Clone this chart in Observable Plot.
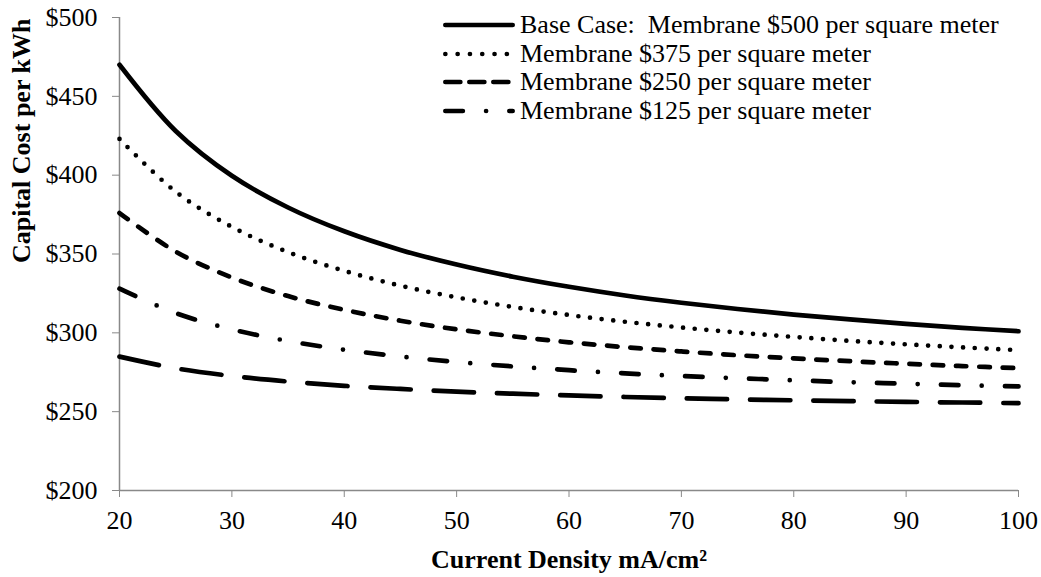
<!DOCTYPE html>
<html><head><meta charset="utf-8">
<script src="https://cdn.jsdelivr.net/npm/d3@7"></script>
<script src="https://cdn.jsdelivr.net/npm/@observablehq/plot@0.6"></script>
<style>
body{margin:0;background:#fff;}
#wrap{position:relative;width:1041px;height:577px;font-family:"Liberation Serif","Times New Roman",serif;}
#wrap svg text, #wrap svg g{font-family:"Liberation Serif","Times New Roman",serif !important;font-variant:normal !important;}
#legend{position:absolute;left:443px;top:11px;}
.row{display:flex;align-items:center;height:28.5px;font-size:26px;white-space:pre;color:#000;line-height:1;}
.row svg{margin-right:5px;display:block;}
</style></head><body><div id="wrap"><div id="legend"></div></div>
<script>
// Current density (mA/cm2)
const density = [20,25,30,35,40,45,50,55,60,65,70,75,80,85,90,95,100];
// Capital cost per kWh for each membrane cost
const cost500 = [470,428,399.6,379.5,364.4,352.6,343.3,335.6,329.2,323.7,319.1,315.1,311.6,308.5,305.7,303.2,301];
const cost375 = [423,389.5,367.2,351.2,339.3,329.9,322.5,316.4,311.3,307.0,303.4,300.2,297.4,294.9,292.7,290.8,289];
const cost250 = [376,351.5,335.1,323.3,314.6,307.7,302.2,297.8,294.0,290.9,288.2,285.8,283.8,282.0,280.4,278.9,277.6];
const cost125 = [328,312.5,302.2,294.8,289.3,285.0,281.5,278.7,276.3,274.3,272.6,271.2,269.9,268.7,267.7,266.8,266];
const costLow = [284.9,277.5,272.6,269.1,266.4,264.4,262.7,261.4,260.3,259.3,258.5,257.8,257.2,256.7,256.2,255.8,255.4];
const seriesNames = [
  "Base Case:  Membrane $500 per square meter",
  "Membrane $375 per square meter",
  "Membrane $250 per square meter",
  "Membrane $125 per square meter",
  ""
];
const xTicks = [20,30,40,50,60,70,80,90,100];
const yTicks = [200,250,300,350,400,450,500];
const xTitle = "Current Density mA/cm²";
const yTitle = "Capital Cost per kWh";

const seriesValues = [cost500, cost375, cost250, cost125, costLow];
const dashes = [null, "0 11.7", "10.5 12.8", "17.5 23.25 0 23.25", "40.3 23"];
const legendDashes = [null, "0 12.3", "15 9", "17.5 23.25 0 23.25"];
const SW = 4.7;
const FONT = "'Liberation Serif', 'Times New Roman', serif";

const lineMarks = seriesValues.map((vals, k) => {
  const rows = density.map((x, i) => ({x, y: vals[i]}));
  return Plot.line(rows, {x: "x", y: "y", stroke: "#000", strokeWidth: SW,
    strokeDasharray: dashes[k] || undefined, strokeLinecap: "round", strokeLinejoin: "round",
    curve: "catmull-rom"});
});

const chart = Plot.plot({
  width: 1041, height: 577,
  marginLeft: 119, marginRight: 23, marginTop: 17, marginBottom: 87,
  style: {fontFamily: FONT, fontSize: "26px", color: "#000", background: "#fff"},
  x: {domain: [20, 100]},
  y: {domain: [200, 500]},
  marks: [
    Plot.axisX({ticks: xTicks, tickSize: 7, tickPadding: 13, stroke: "#898989", fill: "#000", label: null, fontSize: 26, fontFamily: FONT, fontVariant: "normal"}),
    Plot.axisY({ticks: yTicks, tickSize: 7, tickPadding: 15, stroke: "#898989", fill: "#000", label: null, fontSize: 26, fontFamily: FONT, fontVariant: "normal", tickFormat: d => "$" + d}),
    Plot.ruleY([200], {stroke: "#898989", strokeWidth: 1.5}),
    Plot.ruleX([20], {stroke: "#898989", strokeWidth: 1.5}),
    ...lineMarks,
    Plot.text([xTitle], {frameAnchor: "bottom", dy: 77, text: d => d, fontWeight: "bold", fontSize: 26, fontFamily: FONT, fill: "#000"}),
    Plot.text([yTitle], {frameAnchor: "left", dx: -98, dy: 9, rotate: -90, text: d => d, fontWeight: "bold", fontSize: 26, fontFamily: FONT, fill: "#000"})
  ]
});
document.getElementById("wrap").prepend(chart);
chart.style.display = "block";

// legend
const legend = document.getElementById("legend");
seriesNames.forEach((name, k) => {
  if (!name) return;
  const row = document.createElement("div");
  row.className = "row";
  const svg = d3.create("svg").attr("width", 72).attr("height", 10);
  svg.append("line").attr("x1", SW/2).attr("x2", 72 - SW/2).attr("y1", 5).attr("y2", 5)
    .attr("stroke", "#000").attr("stroke-width", SW).attr("stroke-linecap", "round")
    .attr("stroke-dasharray", legendDashes[k]);
  row.appendChild(svg.node());
  const span = document.createElement("span");
  span.textContent = name;
  row.appendChild(span);
  legend.appendChild(row);
});
</script></body></html>
